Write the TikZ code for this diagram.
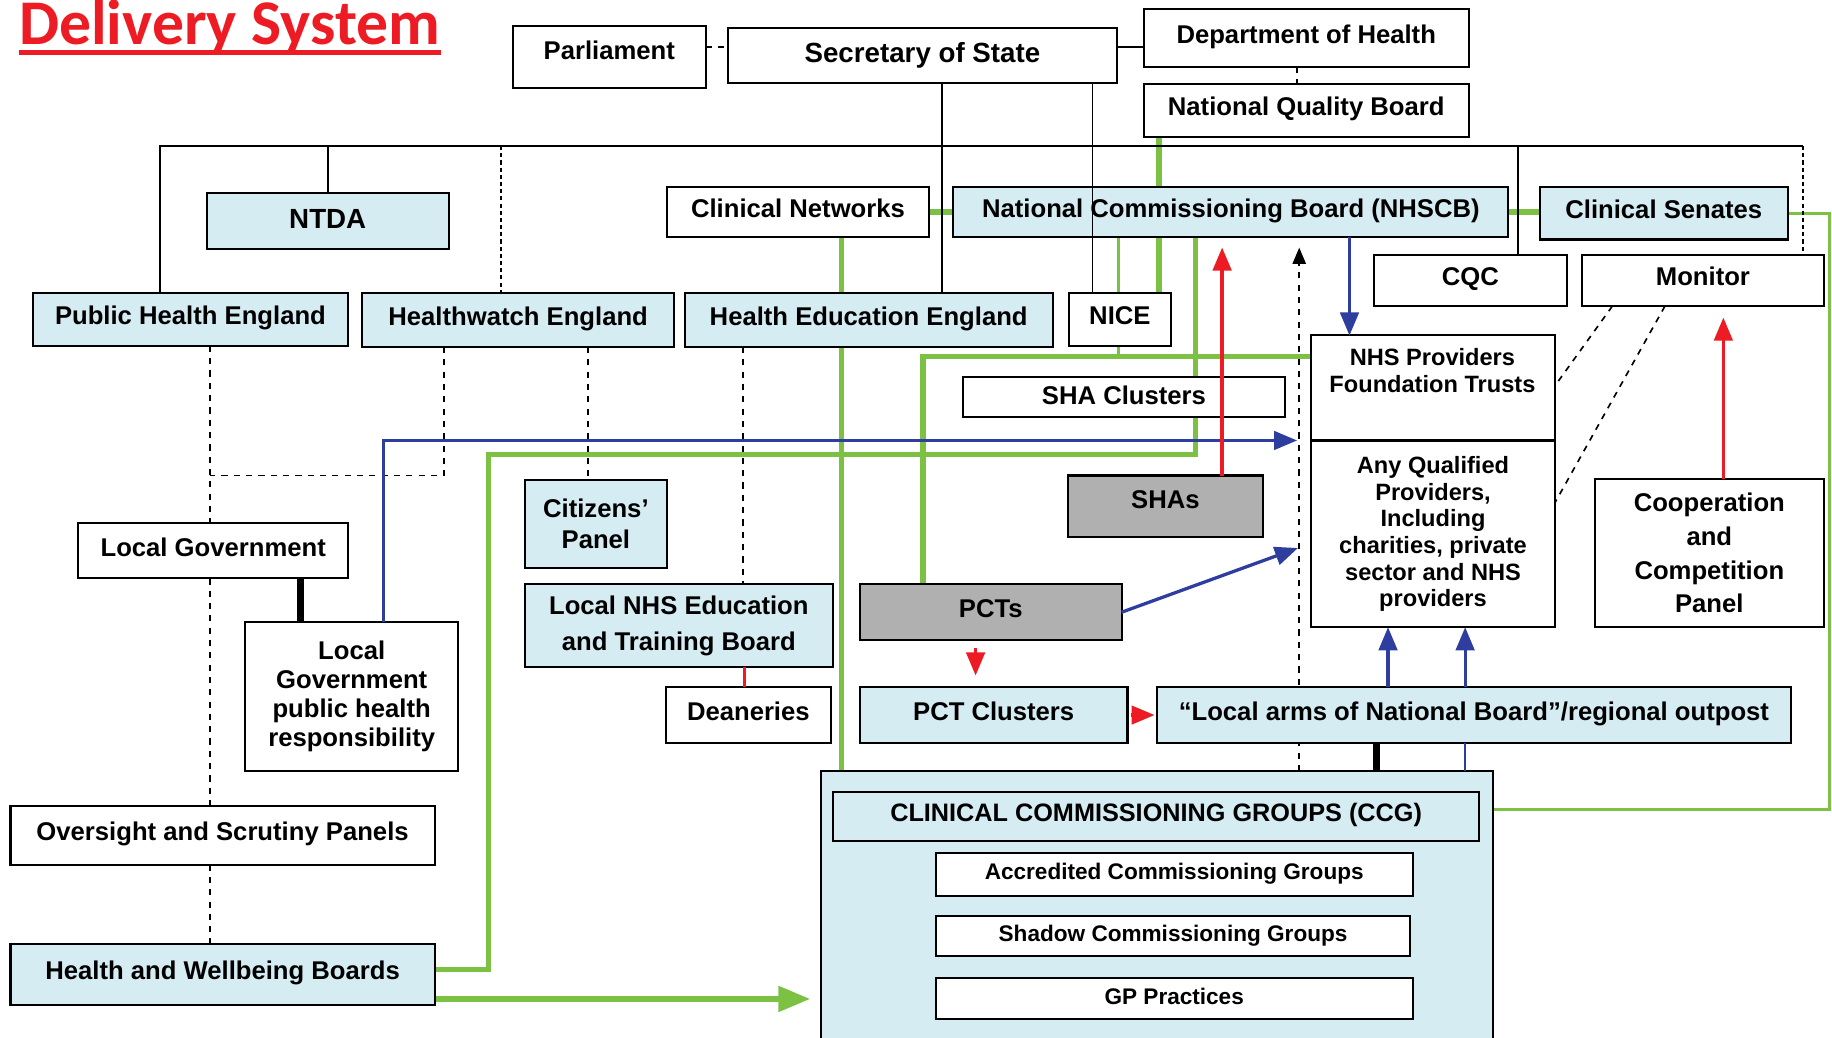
\documentclass[tikz,border=0pt]{standalone}
\usepackage{fontspec}
\setmainfont{Liberation Sans}
\newfontfamily\titlefont{Carlito}
\usetikzlibrary{arrows,backgrounds}
\definecolor{nhsblue}{RGB}{213,236,243}
\definecolor{oldgrey}{RGB}{176,176,176}
\definecolor{linkgreen}{RGB}{124,193,67}
\definecolor{linkblue}{RGB}{46,62,158}
\definecolor{linkred}{RGB}{237,28,36}
\tikzset{
	org/.style={draw, line width=1pt, inner sep=1pt, outer sep=0pt, align=center, font=\fontsize{12.5}{14}\selectfont\bfseries},
	oneline/.style={text height=0.72em, text depth=0.22em},
	orgblue/.style={org, oneline, fill=nhsblue},
	orgwhite/.style={org, oneline, fill=white},
	orggrey/.style={org, oneline, fill=oldgrey},
	greenlink/.style={draw=linkgreen, line width=2.6pt},
	greenthin/.style={draw=linkgreen, line width=1.5pt},
	bluelink/.style={draw=linkblue, line width=1.6pt},
	redlink/.style={draw=linkred, line width=1.6pt},
	solidlink/.style={draw, line width=0.8pt},
	dashlink/.style={draw, line width=0.8pt, dashed},
	dotlink/.style={draw, line width=0.8pt, dash pattern=on 2pt off 1.5pt},
	boldlink/.style={draw, line width=3.4pt}
}
\newcommand{\orgbox}[7]{\node[#2, minimum width={(#5-#3)*0.02cm}, minimum height={(#6-#4)*0.02cm}] (#1) at ({(#3+#5)/2},{(#4+#6)/2}) {#7};}

\begin{document}
\begin{tikzpicture}[x=0.02cm, y=-0.02cm]
	\useasboundingbox (0,0) rectangle (1568,888);
	\node[linkred, font=\titlefont\fontsize{31}{31}\selectfont\bfseries, anchor=base west, inner sep=0pt] (title) at (16,38) {Delivery System};
	\draw[linkred, line width=2.3pt] ([yshift=-0.14cm]title.base west) -- ([yshift=-0.14cm]title.base east);

	\orgbox{parl}{orgwhite, text depth=0.45em}{439}{22}{604}{75}{Parliament}
	\orgbox{sos}{orgwhite, text depth=0.08em, font=\fontsize{13.5}{15}\selectfont\bfseries}{623}{24}{956}{71}{Secretary of State}
	\orgbox{doh}{orgwhite}{979}{8}{1257}{57}{Department of Health}
	\orgbox{nqb}{orgwhite}{979}{72}{1257}{117}{National Quality Board}

	\orgbox{ntda}{orgblue, text depth=0em, font=\fontsize{13.5}{15}\selectfont\bfseries}{177}{165}{384}{213}{NTDA}
	\orgbox{clinnet}{orgwhite}{571}{160}{795}{203}{Clinical Networks}
	\orgbox{nhscb}{orgblue}{816}{160}{1291}{203}{National Commissioning Board (NHSCB)}
	\orgbox{senates}{orgblue}{1318}{160}{1530}{205}{Clinical Senates}
	\orgbox{cqc}{orgwhite}{1176}{218}{1341}{262}{CQC}
	\orgbox{monitor}{orgwhite}{1354}{218}{1561}{262}{Monitor}

	\orgbox{phe}{orgblue}{28}{251}{298}{296}{Public Health England}
	\orgbox{hwe}{orgblue}{310}{251}{577}{297}{Healthwatch England}
	\orgbox{hee}{orgblue}{586}{251}{901}{297}{Health Education England}
	\orgbox{nice}{orgwhite}{915}{251}{1002}{296}{NICE}

	\orgbox{shaclus}{orgwhite, text depth=0em}{824}{323}{1100}{357}{SHA Clusters}
	\orgbox{shas}{orggrey, text depth=0.5em}{914}{407}{1081}{460}{SHAs}
	\orgbox{pcts}{orggrey}{736}{500}{960}{548}{PCTs}
	\orgbox{pctclus}{orgblue}{736}{588}{965}{636}{PCT Clusters}
	\orgbox{localarms}{orgblue}{990}{588}{1533}{636}{“Local arms of National Board”/regional outpost}

	\orgbox{citizens}{org, fill=nhsblue, font=\fontsize{12.5}{15.3}\selectfont\bfseries}{449}{411}{571}{486}{Citizens’\\Panel}
	\orgbox{lnhsetb}{org, fill=nhsblue, font=\fontsize{12.5}{17.5}\selectfont\bfseries}{449}{500}{713}{571}{Local NHS Education\\and Training Board}
	\orgbox{deaneries}{orgwhite}{570}{588}{711}{636}{Deaneries}
	\orgbox{localgov}{orgwhite}{67}{448}{298}{495}{Local Government}
	\orgbox{lgph}{org, fill=white}{210}{532}{392}{660}{Local\\Government\\public health\\responsibility}
	\orgbox{oversight}{orgwhite}{9}{690}{372}{740}{Oversight and Scrutiny Panels}
	\orgbox{hwb}{orgblue}{9}{808}{372}{860}{Health and Wellbeing Boards}

	\orgbox{provtop}{orgwhite}{1122}{287}{1331}{377}{}
	\node[font=\fontsize{11.5}{13}\selectfont\bfseries, align=center] (provtoptext) at (1226,317) {NHS Providers\\Foundation Trusts};
	\orgbox{provbot}{org, fill=white, font=\fontsize{11.5}{13}\selectfont\bfseries}{1122}{377}{1331}{537}{Any Qualified\\Providers,\\Including\\charities, private\\sector and NHS\\providers}
	\orgbox{ccp}{org, fill=white, font=\fontsize{12.5}{16.4}\selectfont\bfseries}{1365}{410}{1561}{537}{Cooperation\\and\\Competition\\Panel}

	\orgbox{ccgarea}{orgblue}{703}{660}{1278}{892}{}
	\orgbox{ccg}{orgblue, font=\fontsize{12.3}{14}\selectfont\bfseries}{713}{678}{1266}{720}{CLINICAL COMMISSIONING GROUPS (CCG)}
	\orgbox{acg}{orgwhite, font=\fontsize{11}{13}\selectfont\bfseries}{801}{730}{1209}{767}{Accredited Commissioning Groups}
	\orgbox{scg}{orgwhite, font=\fontsize{11}{13}\selectfont\bfseries}{801}{784}{1207}{818}{Shadow Commissioning Groups}
	\orgbox{gpp}{orgwhite, text depth=0.1em, font=\fontsize{11}{13}\selectfont\bfseries}{801}{837}{1209}{872}{GP Practices}

	\coordinate (busL) at (137,125);
	\coordinate (busR) at (1543,125);
	\coordinate (greenedge) at (1566,693);
	\coordinate (phejoin) at (180,407);

	\begin{pgfonlayer}{background}
	\draw[greenlink] (clinnet.east) -- (nhscb.west);
	\draw[greenlink] (nhscb.east) -- (nhscb.east -| senates.west);
	\draw[greenthin] (senates.east) -| (greenedge) -- (greenedge -| ccgarea.east);
	\draw[greenlink] (clinnet.south -| 720,0) -- (ccgarea.north -| 720,0);
	\draw[greenlink] (nqb.south -| 992,0) -- (nice.north -| 992,0);
	\draw[greenthin] (nhscb.south -| 957,0) -- (957,305);
	\draw[greenlink] (provtop.west |- 0,305) -| (pcts.north -| 790,0);
	\draw[greenlink] (nhscb.south -| 1023,0) |- (418,389) |- (hwb.east |- 0,830);
	\draw[greenlink, arrows={-triangle 45}, shorten >=0.2cm] (hwb.east |- 0,855) -- (ccgarea.west |- 0,855);
	\draw[dashlink, arrows={-triangle 45}, shorten >=0.18cm] (ccgarea.north -| 1112,0) -- (nhscb.south -| 1112,0);
	\end{pgfonlayer}

	\draw[solidlink] (phe.north -| busL) -- (busL) -- (busR);
	\draw[solidlink] (busL -| ntda.north) -- (ntda.north);
	\draw[dotlink] (busL -| 429,0) -- (hwe.north -| 429,0);
	\draw[solidlink] (busL -| 1299,0) -- (cqc.north -| 1299,0);
	\draw[dotlink] (busR) -- (monitor.north -| busR);
	\draw[solidlink] (sos.south -| 806,0) -- (hee.north -| 806,0);
	\draw[solidlink] (sos.south -| 935,0) -- (nice.north -| 935,0);
	\draw[dashlink] (parl.east |- 0,40) -- (sos.west |- 0,40);
	\draw[solidlink] (sos.east |- 0,40) -- (doh.west |- 0,40);
	\draw[dashlink] (doh.south -| 1110,0) -- (nqb.north -| 1110,0);

	\draw[dashlink] (phe.south -| 180,0) -- (localgov.north -| 180,0);
	\draw[dashlink] (localgov.south -| 180,0) -- (oversight.north -| 180,0);
	\draw[dashlink] (oversight.south -| 180,0) -- (hwb.north -| 180,0);
	\draw[dashlink] (hwe.south -| 380,0) |- (phejoin);
	\draw[dashlink] (hwe.south -| 503,0) -- (citizens.north -| 503,0);
	\draw[dashlink] (hee.south -| 636,0) -- (lnhsetb.north -| 636,0);
	\draw[boldlink] (localgov.south -| 257,0) -- (lgph.north -| 257,0);
	\draw[redlink] (lnhsetb.south -| 637,0) -- (deaneries.north -| 637,0);
	\draw[boldlink] (localarms.south -| 1178,0) -- (ccgarea.north -| 1178,0);
	\draw[bluelink, line width=1pt] (localarms.south -| 1254,0) -- (ccgarea.north -| 1254,0);

	\draw[bluelink, arrows={-triangle 45}, shorten >=0.24cm] (lgph.north -| 328,0) |- (provbot.north west);
	\draw[bluelink, arrows={-triangle 45}] (nhscb.south -| 1155,0) -- (provtop.north -| 1155,0);
	\draw[bluelink, arrows={-triangle 45}, shorten >=0.24cm] (pcts.east) -- (provbot.west |- 0,465);
	\draw[bluelink, arrows={-triangle 45}] (localarms.north -| 1188,0) -- (provbot.south -| 1188,0);
	\draw[bluelink, arrows={-triangle 45}] (localarms.north -| 1254,0) -- (provbot.south -| 1254,0);

	\draw[redlink, arrows={-triangle 45}, shorten >=0.18cm] (shas.north -| 1046,0) -- (nhscb.south -| 1046,0);
	\draw[redlink, arrows={-triangle 45}, shorten >=0.2cm] (ccp.north -| 1475,0) -- (monitor.south -| 1475,0);
	\draw[redlink, arrows={-triangle 45}, shorten <=0.14cm, shorten >=0.2cm] (pcts.south -| 835,0) -- (pctclus.north -| 835,0);
	\draw[redlink, arrows={-triangle 45}, shorten <=0.06cm, shorten >=0.04cm] (pctclus.east) -- (localarms.west);

	\draw[dashlink] (monitor.south -| 1380,0) -- (provtop.east |- 0,330);
	\draw[dashlink] (monitor.south -| 1425,0) -- (provbot.east |- 0,430);
\end{tikzpicture}
\end{document}
